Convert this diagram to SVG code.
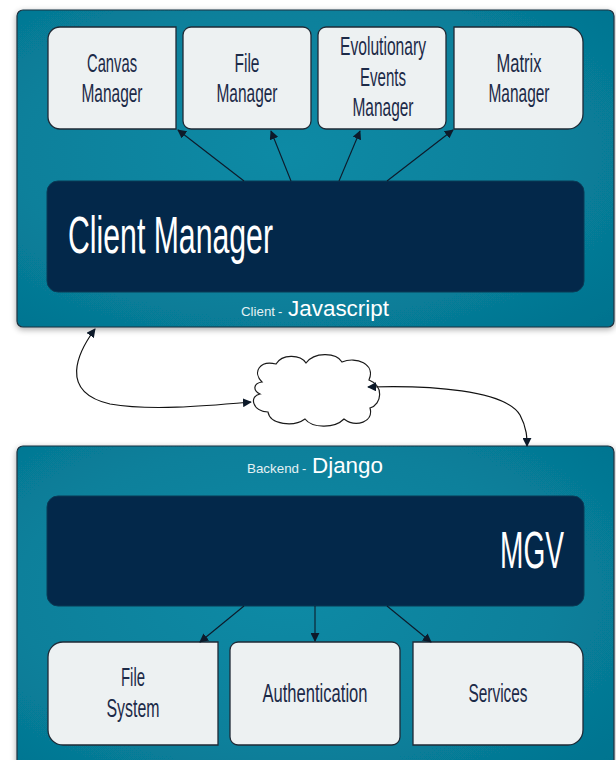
<svg xmlns="http://www.w3.org/2000/svg" width="616" height="760" viewBox="0 0 616 760">
<defs>
<radialGradient id="teal" cx="0.45" cy="0.45" r="0.75">
<stop offset="0" stop-color="#0f8aa5"/>
<stop offset="0.6" stop-color="#08809b"/>
<stop offset="1" stop-color="#04738f"/>
</radialGradient>
<filter id="sh" x="-5%" y="-5%" width="110%" height="115%">
<feGaussianBlur in="SourceAlpha" stdDeviation="3"/>
<feOffset dx="0" dy="2" result="b"/>
<feComponentTransfer><feFuncA type="linear" slope="0.35"/></feComponentTransfer>
<feMerge><feMergeNode/><feMergeNode in="SourceGraphic"/></feMerge>
</filter>
<marker id="ah" viewBox="0 0 10 10" refX="9" refY="5" markerWidth="9" markerHeight="9" markerUnits="userSpaceOnUse" orient="auto-start-reverse">
<path d="M0,0 L10,5 L0,10 Z" fill="#0d1a2a"/>
</marker>
</defs>
<style>
.cont{fill:url(#teal);stroke:#1d3340;stroke-width:1.2;filter:url(#sh)}
.box{fill:#edf1f2;stroke:#1f2a36;stroke-width:1.3}
.navy{fill:#03284a;stroke:#0b3a55;stroke-width:1}
.bt{font-family:"Liberation Sans",Arial,sans-serif;font-size:26px;fill:#1c2a48;text-anchor:middle}
.big{font-family:"Liberation Sans",Arial,sans-serif;font-size:52px;fill:#ffffff}
.sm{font-family:"Liberation Sans",Arial,sans-serif;font-size:13px;fill:#e4f1f4}
.md{font-family:"Liberation Sans",Arial,sans-serif;font-size:22px;fill:#ffffff}
.ar{fill:none;stroke:#0d1a2a;stroke-width:1.1;marker-end:url(#ah)}
.cv{fill:none;stroke:#111;stroke-width:1.2;marker-start:url(#ah);marker-end:url(#ah)}
</style>

<g id="client">
<rect class="cont" x="17" y="10" width="597" height="317" rx="6"/>
<text class="sm" x="241" y="316" textLength="34" lengthAdjust="spacingAndGlyphs">Client</text>
<text class="sm" x="278" y="316">-</text>
<text class="md" x="288" y="316" textLength="101" lengthAdjust="spacingAndGlyphs">Javascript</text>
</g>

<g id="canvas-manager">
<path class="box" d="M60,27 H176 V129 H60 A12,12 0 0 1 48,117 V39 A12,12 0 0 1 60,27 Z"/>
<text class="bt" x="112" y="72" textLength="50" lengthAdjust="spacingAndGlyphs">Canvas</text>
<text class="bt" x="112" y="102" textLength="61" lengthAdjust="spacingAndGlyphs">Manager</text>
</g>

<g id="file-manager">
<rect class="box" x="183" y="27" width="128" height="102" rx="8"/>
<text class="bt" x="247" y="72" textLength="25" lengthAdjust="spacingAndGlyphs">File</text>
<text class="bt" x="247" y="102" textLength="61" lengthAdjust="spacingAndGlyphs">Manager</text>
</g>

<g id="evolutionary-events-manager">
<rect class="box" x="318" y="27" width="128" height="102" rx="8"/>
<text class="bt" x="383" y="55" textLength="86" lengthAdjust="spacingAndGlyphs">Evolutionary</text>
<text class="bt" x="383" y="86" textLength="46" lengthAdjust="spacingAndGlyphs">Events</text>
<text class="bt" x="383" y="116" textLength="61" lengthAdjust="spacingAndGlyphs">Manager</text>
</g>

<g id="matrix-manager">
<path class="box" d="M454,27 H568 A15,15 0 0 1 583,42 V114 A15,15 0 0 1 568,129 H454 Z"/>
<text class="bt" x="519" y="72" textLength="45" lengthAdjust="spacingAndGlyphs">Matrix</text>
<text class="bt" x="519" y="102" textLength="61" lengthAdjust="spacingAndGlyphs">Manager</text>
</g>

<g id="client-manager">
<rect class="navy" x="47" y="181" width="537" height="111" rx="11"/>
<text class="big" x="68" y="253" textLength="205" lengthAdjust="spacingAndGlyphs">Client Manager</text>
</g>

<g id="cloud">
<path d="M262,382 C252,372 260,360 276,364 C282,354 300,354 306,363 C314,352 336,352 342,362 C356,356 376,364 369,380 C384,386 382,404 370,408 C374,422 356,428 344,419 C334,429 312,428 305,419 C294,427 270,425 268,412 C252,411 249,396 260,394 C252,390 254,383 262,382 Z" fill="#ffffff" stroke="#1a1a1a" stroke-width="1.2"/>
</g>

<g id="backend">
<rect class="cont" x="17" y="446" width="597" height="330" rx="6"/>
<text class="sm" x="247" y="473" textLength="52" lengthAdjust="spacingAndGlyphs">Backend</text>
<text class="sm" x="302" y="473">-</text>
<text class="md" x="312" y="473" textLength="71" lengthAdjust="spacingAndGlyphs">Django</text>
</g>

<g id="mgv">
<rect class="navy" x="47" y="496" width="537" height="110" rx="11"/>
<text class="big" transform="translate(500,568) scale(0.54,1)" x="0" y="0">MGV</text>
</g>

<g id="file-system">
<path class="box" d="M63,642 H218 V745 H63 A15,15 0 0 1 48,730 V657 A15,15 0 0 1 63,642 Z"/>
<text class="bt" x="133" y="686" textLength="24" lengthAdjust="spacingAndGlyphs">File</text>
<text class="bt" x="133" y="717" textLength="53" lengthAdjust="spacingAndGlyphs">System</text>
</g>

<g id="authentication">
<rect class="box" x="230" y="642" width="170" height="103" rx="8"/>
<text class="bt" x="315" y="702" textLength="105" lengthAdjust="spacingAndGlyphs">Authentication</text>
</g>

<g id="services">
<path class="box" d="M413,642 H568 A15,15 0 0 1 583,657 V730 A15,15 0 0 1 568,745 H413 Z"/>
<text class="bt" x="498" y="702" textLength="59" lengthAdjust="spacingAndGlyphs">Services</text>
</g>

<g id="connectors">
<line class="ar" x1="244" y1="181" x2="178" y2="130"/>
<line class="ar" x1="291" y1="181" x2="271" y2="131"/>
<line class="ar" x1="339" y1="181" x2="360" y2="131"/>
<line class="ar" x1="387" y1="181" x2="453" y2="130"/>
<path class="cv" d="M95,329 C78,352 58,392 110,404 C150,411 205,406 251,402"/>
<path class="cv" d="M368,387 C430,385 505,390 520,415 C527,428 527,438 527,446"/>
<line class="ar" x1="244" y1="606" x2="200" y2="642"/>
<line class="ar" x1="315" y1="606" x2="315" y2="641"/>
<line class="ar" x1="387" y1="606" x2="431" y2="642"/>
</g>
</svg>
